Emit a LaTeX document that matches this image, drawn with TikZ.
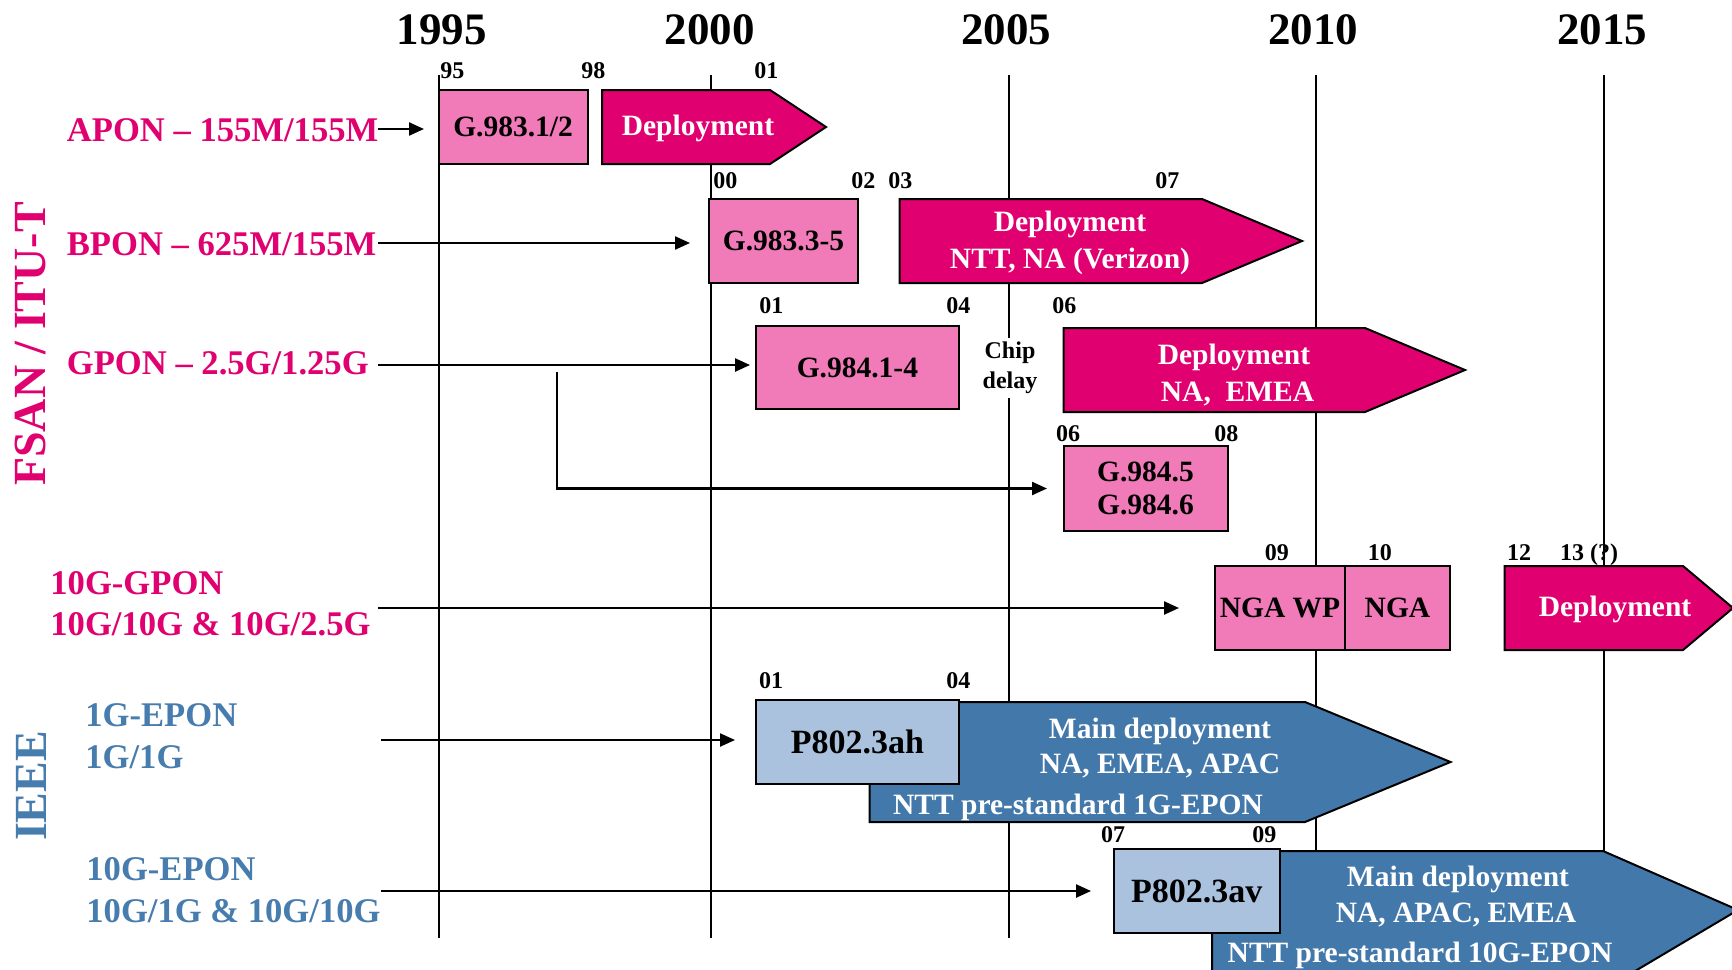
\documentclass[tikz,border=0pt]{standalone}
\usepackage{fontspec}
\setmainfont{Liberation Serif}
\usetikzlibrary{arrows.meta}

\definecolor{fsanpink}{RGB}{224,0,112}
\definecolor{stdpink}{RGB}{241,122,184}
\definecolor{ieeeblue}{RGB}{67,120,170}
\definecolor{ieeetext}{RGB}{70,124,174}
\definecolor{stdblue}{RGB}{170,194,221}

\tikzset{
  every node/.style={inner sep=0pt},
  year/.style={font=\fontsize{22.5}{24}\selectfont\bfseries, anchor=base},
  rowlab/.style={font=\fontsize{17.3}{20}\selectfont\bfseries, anchor=base west},
  fsanlab/.style={rowlab, text=fsanpink},
  ieeelab/.style={rowlab, text=ieeetext},
  grouplab/.style={font=\fontsize{23}{25}\selectfont\bfseries, rotate=90},
  tick/.style={font=\fontsize{12}{13}\selectfont\bfseries, anchor=base west},
  stdbox/.style={draw, line width=1pt, align=center,
    font=\fontsize{14.75}{16.25}\selectfont\bfseries},
  pinkbox/.style={stdbox, fill=stdpink},
  bluebox/.style={stdbox, fill=stdblue, font=\fontsize{17}{19}\selectfont\bfseries},
  pinkarrow/.style={draw, line width=1pt, fill=fsanpink, line join=miter},
  bluearrow/.style={draw, line width=1pt, fill=ieeeblue, line join=miter},
  arrowtext/.style={text=white, anchor=base, font=\fontsize{14.75}{16}\selectfont\bfseries},
  gridline/.style={line width=1pt},
  conn/.style={line width=1.15pt, -{Triangle[length=7.5pt,width=6.5pt]}},
}

\begin{document}
\begin{tikzpicture}[x=0.5pt, y=-0.5pt]
\useasboundingbox (0,0) rectangle (1732,969);
\fill[white] (0,0) rectangle (1732,969);
\clip (0,0) rectangle (1732,969);

% year scale
\node[year] (y1995) at (441.5,44) {1995};
\node[year] (y2000) at (709.6,44) {2000};
\node[year] (y2005) at (1006,44) {2005};
\node[year] (y2010) at (1313,44) {2010};
\node[year] (y2015) at (1602,44) {2015};
\foreach \x in {438.5,710.5,1008.5,1315.5,1603.5}
  \draw[gridline] (\x,75) -- (\x,938);

% group labels
\node[grouplab, text=fsanpink] (fsan) at (30,344) {FSAN / ITU-T};
\node[grouplab, text=ieeetext] (ieee) at (31,786) {IEEE};

% technology labels
\node[fsanlab] (apon) at (66.5,141.7) {APON \textendash{} 155M/155M};
\node[fsanlab] (bpon) at (66.5,255) {BPON \textendash{} 625M/155M};
\node[fsanlab] (gpon) at (66.5,374.5) {GPON \textendash{} 2.5G/1.25G};
\node[fsanlab] (xgpona) at (50,594.5) {10G-GPON};
\node[fsanlab] (xgponb) at (50,635) {10G/10G \& 10G/2.5G};
\node[ieeelab] (epona) at (85,726.5) {1G-EPON};
\node[ieeelab] (eponb) at (85,768.5) {1G/1G};
\node[ieeelab] (xepona) at (86,880.5) {10G-EPON};
\node[ieeelab] (xeponb) at (86,922) {10G/1G \& 10G/10G};

% arrow start points
\coordinate (s1) at (378,129);
\coordinate (s2) at (378,243);
\coordinate (s3) at (378,365);
\coordinate (s3b) at (557,372);
\coordinate (s4) at (378,608);
\coordinate (s5) at (381,740);
\coordinate (s6) at (381,891);

% deployment arrows
\draw[pinkarrow] (602,90) -- (770,90) -- (826,127) -- (770,164) -- (602,164) -- cycle;
\draw[pinkarrow] (899.5,199) -- (1202,199) -- (1302,241) -- (1202,283) -- (899.5,283) -- cycle;
\draw[pinkarrow] (1063.5,328) -- (1365,328) -- (1465,370) -- (1365,412) -- (1063.5,412) -- cycle;
\draw[pinkarrow] (1504.5,566) -- (1683,566) -- (1733,608) -- (1683,650) -- (1504.5,650) -- cycle;
\draw[bluearrow] (869.5,702) -- (1305,702) -- (1450.5,762) -- (1305,822) -- (869.5,822) -- cycle;
\draw[bluearrow] (1212,851) -- (1603,851) -- (1738,910) -- (1620,980) -- (1212,980) -- cycle;

% standardisation boxes
\node[pinkbox, minimum width=74.6pt, minimum height=37pt] (g1) at (513.1,127) {G.983.1/2};
\node[pinkbox, minimum width=74.5pt, minimum height=42pt] (g2) at (783.5,241) {G.983.3-5};
\node[pinkbox, minimum width=101.65pt, minimum height=41.75pt] (g3) at (857.4,367.7) {G.984.1-4};
\node[pinkbox, minimum width=82pt, minimum height=42.5pt] (g5) at (1145.5,488.5) {G.984.5\\G.984.6};
\node[pinkbox, minimum width=65pt, minimum height=42pt] (ngawp) at (1280,608) {NGA WP};
\node[pinkbox, minimum width=52.5pt, minimum height=42pt] (nga) at (1397.5,608) {NGA};
\node[bluebox, minimum width=101.5pt, minimum height=42pt] (p3ah) at (857.5,742) {P802.3ah};
\node[bluebox, minimum width=83.25pt, minimum height=42pt] (p3av) at (1196.8,891) {P802.3av};

% texts on the deployment arrows
\node[arrowtext] (d1) at (698,135) {Deployment};
\node[arrowtext] (d2a) at (1070,231) {Deployment};
\node[arrowtext] (d2b) at (1070,268) {NTT, NA (Verizon)};
\node[arrowtext] (d3a) at (1234,364.5) {Deployment};
\node[arrowtext] (d3b) at (1237.5,401) {NA,\ \ EMEA};
\node[arrowtext] (d4) at (1615,616) {Deployment};
\node[arrowtext] (m1a) at (1160,738) {Main deployment};
\node[arrowtext] (m1b) at (1160,773.4) {NA, EMEA, APAC};
\node[arrowtext] (m1c) at (1078,814.4) {NTT pre-standard 1G-EPON};
\node[arrowtext] (m2a) at (1458,886) {Main deployment};
\node[arrowtext] (m2b) at (1456,922) {NA, APAC, EMEA};
\node[arrowtext] (m2c) at (1420,962) {NTT pre-standard 10G-EPON};

% chip delay note
\node[fill=white, align=center, inner xsep=1pt, inner ysep=2pt,
      font=\fontsize{12}{15}\selectfont\bfseries] (chip) at (1010,368) {Chip\\delay};

% year ticks
\node[tick] (t95) at (440,78) {95};
\node[tick] (t98) at (581,78) {98};
\node[tick] (t01a) at (754,78) {01};
\node[tick] (t00) at (713,188) {00};
\node[tick] (t02) at (851,188) {02};
\node[tick] (t03) at (888,188) {03};
\node[tick] (t07a) at (1155,188) {07};
\node[tick] (t01b) at (759,313) {01};
\node[tick] (t04a) at (946,313) {04};
\node[tick] (t06a) at (1052,313) {06};
\node[tick] (t06b) at (1055.7,441.5) {06};
\node[tick] (t08) at (1214,441.5) {08};
\node[tick] (t09a) at (1264.4,560) {09};
\node[tick] (t10) at (1367.5,560) {10};
\node[tick] (t12) at (1506.7,560) {12};
\node[tick] (t13) at (1559.8,560) {13 (?)};
\node[tick] (t01c) at (758.7,688) {01};
\node[tick] (t04b) at (946,688) {04};
\node[tick] (t07b) at (1100.8,842.5) {07};
\node[tick] (t09b) at (1252,842.5) {09};

% connectors
\draw[conn, shorten >=6.75pt] (s1) -- (s1 -| g1.west);
\draw[conn, shorten >=9pt] (s2) -- (s2 -| g2.west);
\draw[conn, shorten >=2.35pt] (s3) -- (s3 -| g3.west);
\draw[conn, shorten >=7.75pt] (s3b) |- (g5.west);
\draw[conn, shorten >=17.5pt] (s4) -- (s4 -| ngawp.west);
\draw[conn, shorten >=10pt] (s5) -- (s5 -| p3ah.west);
\draw[conn, shorten >=10.75pt] (s6) -- (s6 -| p3av.west);
\end{tikzpicture}
\end{document}
